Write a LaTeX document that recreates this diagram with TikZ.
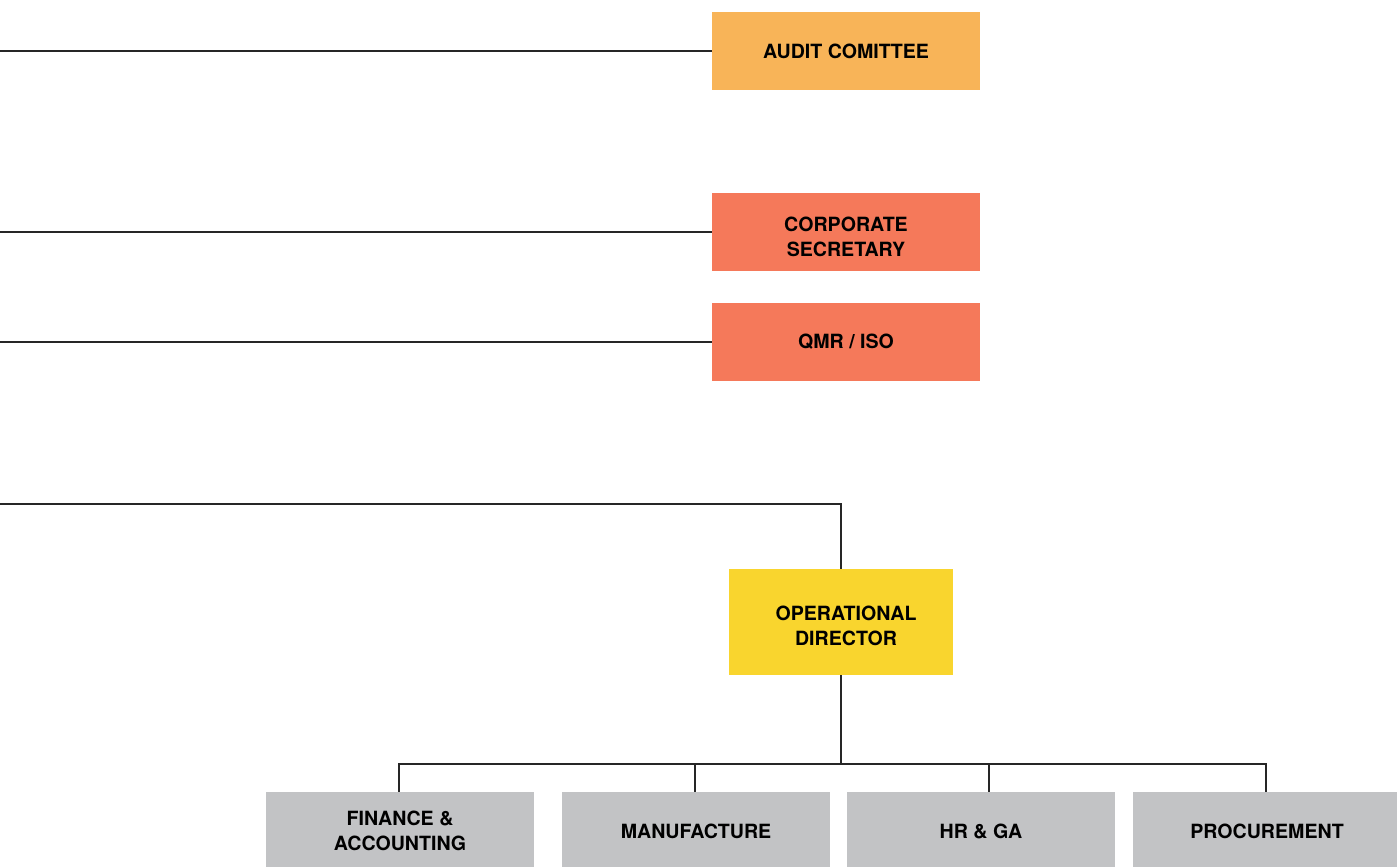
\documentclass[tikz,border=0pt]{standalone}
\usepackage{fontspec}
\setmainfont{TeX Gyre Heros}
\usepackage{tikz}
\definecolor{auditc}{HTML}{F8B458}
\definecolor{secc}{HTML}{F5795A}
\definecolor{opc}{HTML}{F9D52E}
\definecolor{deptc}{HTML}{C2C3C5}
\tikzset{box/.style = {inner sep = 0, minimum width = 134pt, minimum height = 39pt, align = center,
    font = \fontsize{9.8}{12.5}\selectfont\bfseries},
  link/.style = {draw = black!85, line width = 1.4pt}}

\begin{document}
\begin{tikzpicture}[x = 0.5pt, y = -0.5pt]
    \useasboundingbox (0, 0) rectangle (1397, 867);

    \node [box, fill = auditc] (audit) at (846, 51) {AUDIT COMITTEE};
    \node [box, text height = 25pt, fill = secc] (sec) at (846, 232) {CORPORATE\\SECRETARY};
    \node [box, fill = secc] (qmr) at (846, 342) {QMR / ISO};
    \node [box, text height = 24pt, fill = opc, minimum width = 112pt, minimum height = 53pt] (od) at (841, 622)
      {\hspace*{5pt}OPERATIONAL\\\hspace*{5pt}DIRECTOR};

    \node [box, fill = deptc] (fin) at (400, 831) {FINANCE \&\\ACCOUNTING};
    \node [box, fill = deptc] (man) at (696, 831) {MANUFACTURE};
    \node [box, fill = deptc] (hr) at (981, 831) {HR \& GA};
    \node [box, fill = deptc] (proc) at (1267, 831) {PROCUREMENT};

    \coordinate (in1) at (0, 51);
    \coordinate (in2) at (0, 232);
    \coordinate (in3) at (0, 342);
    \coordinate (in4) at (0, 504);
    \coordinate (bus) at (841, 764);

    \draw [link] (in1) -- (audit.west);
    \draw [link] (in2) -- (sec.west);
    \draw [link] (in3) -- (qmr.west);
    \draw [link] (in4) -| (od.north);

    \foreach \n/\s in {fin/-1, man/-1, hr/8, proc/-1}
      \draw [link] (od.south) -- (bus) -| ([xshift = \s*0.5pt]\n.north);
  \end{tikzpicture}
\end{document}
